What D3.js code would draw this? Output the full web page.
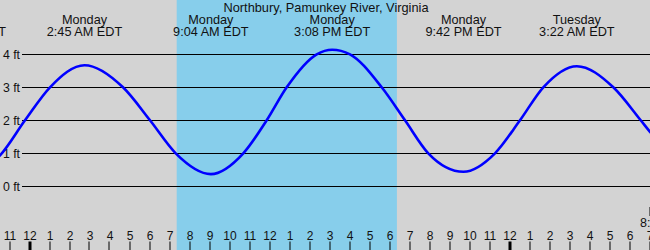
<!DOCTYPE html>
<html>
<head>
<meta charset="utf-8">
<script src="https://d3js.org/d3.v7.min.js"></script>
<style>
  body { margin: 0; padding: 0; background: #d3d3d3; }
  svg { display: block; font-family: "Liberation Sans", Arial, sans-serif; }
</style>
</head>
<body>
<div id="chart"></div>
<script>
// hours from Monday 00:00 EDT, water level in ft
var tideHours = [-3.1, -1.475, -0.225, 1.025, 2.75, 4.675, 6.025, 7.31, 9.067, 10.69, 11.86, 12.86, 14.36,
                 15.133, 16.025, 17.61, 18.775, 19.94, 21.7, 23.275, 24.525, 25.69, 27.367, 29.19, 30.56, 31.025, 33.8];
var tideFeet  = [0.4, 0.94, 2.0, 3.0, 3.67, 3.0, 2.0, 1.0, 0.37, 1.0, 2.0, 3.0, 4.0,
                 4.14, 4.0, 3.0, 2.0, 1.0, 0.44, 1.0, 2.0, 3.0, 3.64, 3.0, 2.0, 1.65, 0.35];

// high / low tide labels
var extremeHours = [-3.083, 2.75, 9.067, 15.133, 21.7, 27.367];
var extremeDays  = ["Sunday", "Monday", "Monday", "Monday", "Monday", "Tuesday"];
var extremeTimes = ["8:55 PM EDT", "2:45 AM EDT", "9:04 AM EDT", "3:08 PM EDT", "9:42 PM EDT", "3:22 AM EDT"];

// daylight (sunrise / sunset)
var sunrise = 7.36, sunset = 18.37;
var nextSunrise = 31.3, nextSunriseText = "8:17 AM";

var levels = [0, 1, 2, 3, 4];
var title = "Northbury, Pamunkey River, Virginia";

var width = 650, height = 250;

var svg = d3.select("#chart").append("svg")
    .attr("width", width)
    .attr("height", height);

var x = d3.scaleLinear().domain([-1.475, 31.025]).range([0, width]);
var y = d3.scaleLinear().domain([0, 4]).range([186.3, 54.3]);

svg.append("rect")
    .attr("width", width).attr("height", height)
    .attr("fill", "#d3d3d3");

svg.append("rect")
    .attr("x", x(sunrise))
    .attr("y", 0)
    .attr("width", x(sunset) - x(sunrise))
    .attr("height", height)
    .attr("fill", "#87ceeb");

// level lines
svg.selectAll("line.level")
  .data(levels)
  .enter()
  .append("line")
    .attr("class", "level")
    .attr("x1", 22).attr("x2", width)
    .attr("y1", function(d){ return Math.round(y(d)) + 0.5; })
    .attr("y2", function(d){ return Math.round(y(d)) + 0.5; })
    .attr("stroke", "#000")
    .attr("stroke-width", 1);

svg.selectAll("text.level")
  .data(levels)
  .enter()
  .append("text")
    .attr("class", "level")
    .attr("x", 20)
    .attr("y", function(d){ return y(d) + 4.3; })
    .attr("text-anchor", "end")
    .attr("font-size", "12.3px")
    .attr("fill", "#111")
    .text(function(d){ return d + " ft"; });

// tide curve
var pts = tideHours.map(function(h, i){ return [h, tideFeet[i]]; });
var line = d3.line()
    .x(function(d){ return x(d[0]); })
    .y(function(d){ return y(d[1]); })
    .curve(d3.curveMonotoneX);

svg.append("path")
    .datum(pts)
    .attr("d", line)
    .attr("fill", "none")
    .attr("stroke", "#0000ff")
    .attr("stroke-width", 2.6);

// high/low labels
var lab = svg.selectAll("g.extreme")
  .data(extremeHours)
  .enter()
  .append("g")
    .attr("class", "extreme")
    .attr("transform", function(d){ return "translate(" + x(d) + ",0)"; })
    .attr("font-size", "12.7px")
    .attr("fill", "#111")
    .attr("text-anchor", "middle");
lab.append("text").attr("y", 24).text(function(d, i){ return extremeDays[i]; });
lab.append("text").attr("y", 36).text(function(d, i){ return extremeTimes[i]; });

svg.append("text")
    .attr("x", 326).attr("y", 12)
    .attr("text-anchor", "middle")
    .attr("font-size", "12.8px")
    .attr("fill", "#111")
    .text(title);

// hour axis
var hours = d3.range(-2, 33);
var axis = d3.axisBottom(x)
    .tickValues(hours)
    .tickSize(0)
    .tickFormat(function(h){ var m = ((h % 12) + 12) % 12; return m == 0 ? 12 : m; });

var g = svg.append("g")
    .attr("transform", "translate(0,228)")
    .call(axis);
g.select(".domain").remove();
g.selectAll("text")
    .attr("font-family", "Liberation Sans, Arial, sans-serif")
    .attr("font-size", "12px")
    .attr("fill", "#111");

svg.selectAll("rect.tick")
  .data(hours)
  .enter()
  .append("rect")
    .attr("class", "tick")
    .attr("x", function(h){ return Math.round(x(h)) - (h % 24 == 0 ? 1.5 : 0.5); })
    .attr("y", 241.5)
    .attr("width", function(h){ return h % 24 == 0 ? 3 : 1; })
    .attr("height", 9)
    .attr("fill", "#000");

// next sunrise marker, cut off at the right edge
svg.append("rect")
    .attr("x", x(nextSunrise) - 6)
    .attr("y", 207)
    .attr("width", 2)
    .attr("height", 9)
    .attr("fill", "#000");
svg.append("text")
    .attr("x", 640).attr("y", 226.7)
    .attr("font-size", "12.5px")
    .attr("fill", "#111")
    .text(nextSunriseText);
</script>
</body>
</html>
